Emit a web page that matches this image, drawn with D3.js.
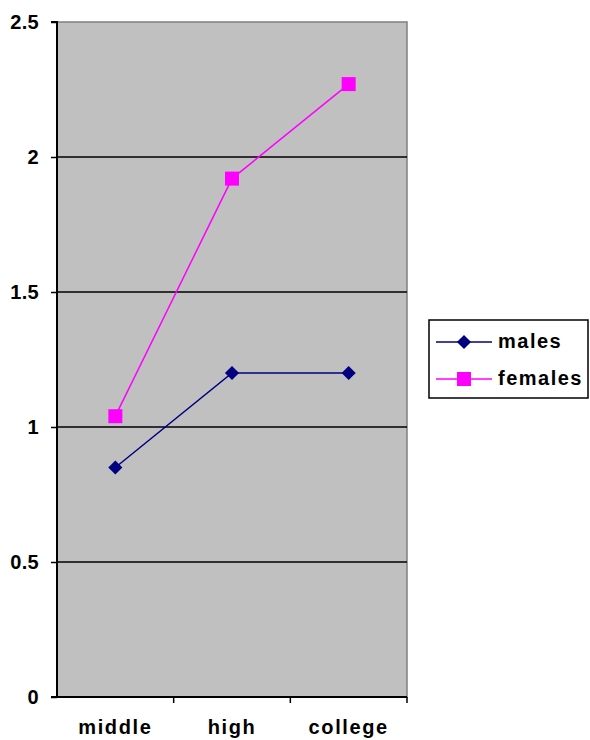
<!DOCTYPE html>
<html><head><meta charset="utf-8">
<script src="https://cdn.jsdelivr.net/npm/d3@7"></script>
<style>body{margin:0;background:#fff}svg{display:block}</style>
</head><body>
<script>
const categories = ["middle", "high", "college"];
const males = [0.85, 1.2, 1.2];
const females = [1.04, 1.92, 2.27];
const yTicks = [0, 0.5, 1, 1.5, 2, 2.5];
const seriesNames = ["males", "females"];

const W = 590, H = 740;
const m = {left: 57, right: 407, top: 22, bottom: 697};
const svg = d3.select("body").append("svg").attr("width", W).attr("height", H);
const font = "Arial, 'Liberation Sans', sans-serif";

const x = d3.scaleBand().domain(categories).range([m.left, m.right]);
const y = d3.scaleLinear().domain([0, 2.5]).range([m.bottom, m.top]);

svg.append("rect").attr("x", m.left).attr("y", m.top).attr("width", m.right - m.left).attr("height", m.bottom - m.top)
  .attr("fill", "#c0c0c0").attr("stroke", "#808080").attr("stroke-width", 1.5);

// gridlines
svg.append("g").selectAll("line").data(yTicks.filter(d => d > 0 && d < 2.5)).join("line")
  .attr("x1", m.left).attr("x2", m.right).attr("y1", d => y(d)).attr("y2", d => y(d))
  .attr("stroke", "#000").attr("stroke-width", 1.5);

// y axis
const yAxis = svg.append("g").attr("transform", `translate(${m.left},0)`)
  .call(d3.axisLeft(y).tickValues(yTicks).tickFormat(d3.format("")).tickSize(6).tickPadding(12));
yAxis.select(".domain").attr("stroke", "#000").attr("stroke-width", 2).attr("d", `M-6,${m.top}H0V${m.bottom}H-6`);
yAxis.selectAll(".tick line").attr("stroke-width", 1.5);
yAxis.selectAll("text").attr("font-family", font).attr("font-weight", "bold").attr("font-size", 20)
  .attr("letter-spacing", 0.3).attr("fill", "#000").attr("dy", "0.3em");

// x axis
const xAxis = svg.append("g").attr("transform", `translate(0,${m.bottom})`)
  .call(d3.axisBottom(x).tickSize(0).tickPadding(23));
xAxis.select(".domain").attr("stroke", "#000").attr("stroke-width", 2).attr("d", `M${m.left - 6},0H${m.right}`);
xAxis.selectAll("text").attr("font-family", font).attr("font-weight", "bold").attr("font-size", 20)
  .attr("letter-spacing", 1.6).attr("fill", "#000");
xAxis.selectAll(".xt").data(categories.map(c => x(c) + x.bandwidth())).join("line")
  .attr("x1", d => d).attr("x2", d => d).attr("y1", 0).attr("y2", 6).attr("stroke", "#000").attr("stroke-width", 1.5);

const cx = c => x(c) + x.bandwidth() / 2;
const line = d3.line().x((d, i) => cx(categories[i])).y(d => y(d));
const diamond = d3.symbol().type(d3.symbolSquare).size(100);

svg.append("path").datum(males).attr("d", line).attr("fill", "none").attr("stroke", "#000080").attr("stroke-width", 1.5);
svg.append("path").datum(females).attr("d", line).attr("fill", "none").attr("stroke", "#ff00ff").attr("stroke-width", 1.5);

svg.append("g").selectAll("path").data(males).join("path")
  .attr("d", diamond).attr("transform", (d, i) => `translate(${cx(categories[i])},${y(d)}) rotate(45)`).attr("fill", "#000080");
svg.append("g").selectAll("rect").data(females).join("rect")
  .attr("x", (d, i) => cx(categories[i]) - 7).attr("y", d => y(d) - 7).attr("width", 14).attr("height", 14).attr("fill", "#ff00ff");

// legend
const lg = svg.append("g");
lg.append("rect").attr("x", 429).attr("y", 320).attr("width", 159).attr("height", 78).attr("fill", "#fff").attr("stroke", "#000").attr("stroke-width", 1.5);
const colors = ["#000080", "#ff00ff"];
seriesNames.forEach((n, i) => {
  const yy = 342 + i * 37;
  lg.append("line").attr("x1", 436).attr("x2", 492).attr("y1", yy).attr("y2", yy).attr("stroke", colors[i]).attr("stroke-width", 1.5);
  if (i === 0) lg.append("path").attr("d", diamond).attr("transform", `translate(464,${yy}) rotate(45)`).attr("fill", colors[i]);
  else lg.append("rect").attr("x", 457).attr("y", yy - 7).attr("width", 14).attr("height", 14).attr("fill", colors[i]);
  lg.append("text").attr("x", 498).attr("y", yy + 6).text(n).attr("font-family", font).attr("font-weight", "bold").attr("font-size", 20).attr("letter-spacing", 1.5);
});
</script>
</body></html>
